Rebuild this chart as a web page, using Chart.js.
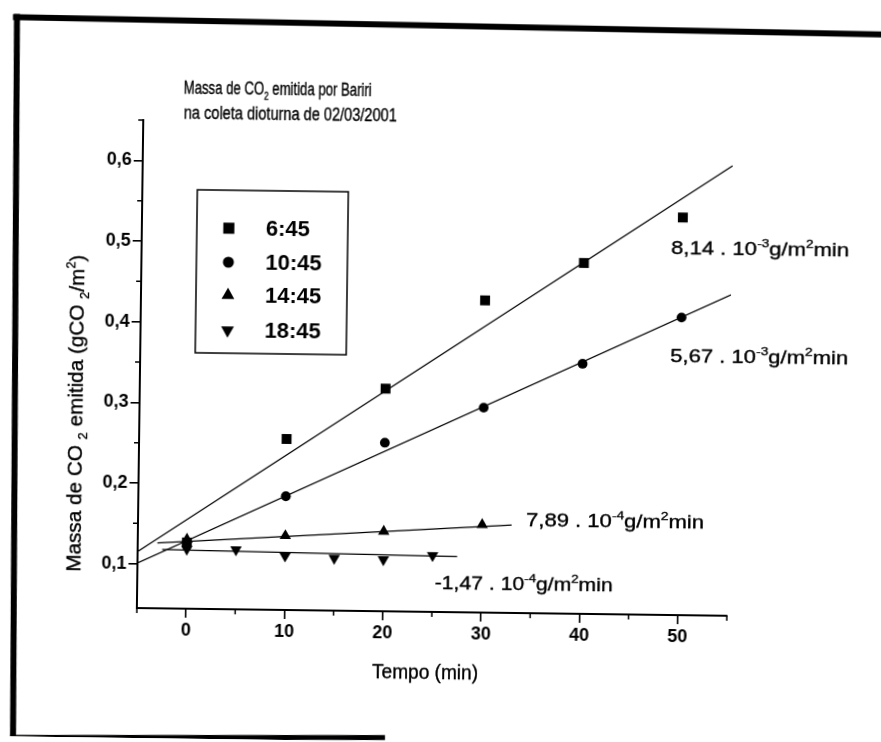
<!DOCTYPE html>
<html><head><meta charset="utf-8">
<script src="https://cdn.jsdelivr.net/npm/chart.js@4.4.1/dist/chart.umd.min.js"></script>
<style>
html,body{margin:0;padding:0;background:#fff;}
#wrap{position:relative;width:881px;height:742px;overflow:hidden;background:#fff;}
#c{position:absolute;left:0;top:0;transform:rotate(0.75deg);transform-origin:440.5px 371px;}
</style></head><body>
<div id="wrap"><canvas id="c" width="881" height="742"></canvas></div>
<script>
// ---------- data ----------
const seriesLabels = ['6:45', '10:45', '14:45', '18:45'];
const t645  = [0, 10, 20, 30, 40, 50];
const m645  = [0.127, 0.257, 0.321, 0.432, 0.480, 0.538];
const t1045 = [0, 10, 20, 30, 40, 50];
const m1045 = [0.123, 0.186, 0.254, 0.299, 0.355, 0.414];
const t1445 = [0, 10, 20, 30];
const m1445 = [0.131, 0.137, 0.144, 0.154];
const t1845 = [0, 5, 10, 15, 20, 25];
const m1845 = [0.119, 0.119, 0.112, 0.110, 0.109, 0.115];
// fitted straight lines (end points)
const fitT645  = [-5, 55];    const fitM645  = [0.115, 0.603];
const fitT1045 = [-5, 55];    const fitM1045 = [0.101, 0.443];
const fitT1445 = [-3, 33];    const fitM1445 = [0.126, 0.154];
const fitT1845 = [-2.5, 27.5]; const fitM1845 = [0.118, 0.114];
const slopeTexts = ['8,14 . 10', '5,67 . 10', '7,89 . 10', '-1,47 . 10'];
const slopeExps  = ['-3', '-3', '-4', '-4'];
const xTicks = [0, 10, 20, 30, 40, 50];
const xMinor = [-5, 5, 15, 25, 35, 45, 55];
const yTicks = [0.1, 0.2, 0.3, 0.4, 0.5, 0.6];
const yMinor = [0.15, 0.25, 0.35, 0.45, 0.55, 0.65];

// ---------- presentation ----------
const FONT = "'Liberation Sans', Arial, Helvetica, sans-serif";
const ROT = 0.75 * Math.PI / 180;
const CX = 440.5, CY = 371;
const zip = (xs, ys) => xs.map((x, i) => ({x: x, y: ys[i]}));
const markers = [
  {pointStyle: 'rect', radius: 7, rotation: 0},
  {pointStyle: 'circle', radius: 4.9, rotation: 0},
  {pointStyle: 'triangle', radius: 6.6, rotation: 0},
  {pointStyle: 'triangle', radius: 6.6, rotation: 180}
];
const pointSets = [zip(t645, m645), zip(t1045, m1045), zip(t1445, m1445), zip(t1845, m1845)];
const lineSets = [zip(fitT645, fitM645), zip(fitT1045, fitM1045), zip(fitT1445, fitM1445), zip(fitT1845, fitM1845)];

const datasets = [];
pointSets.forEach((d, i) => datasets.push({
  label: seriesLabels[i], data: d, showLine: false,
  pointStyle: markers[i].pointStyle, pointRadius: markers[i].radius, pointRotation: markers[i].rotation,
  pointBackgroundColor: '#000', pointBorderColor: '#000', pointBorderWidth: 0, pointHoverRadius: markers[i].radius
}));
lineSets.forEach((d, i) => datasets.push({
  label: 'fit ' + seriesLabels[i], data: d, showLine: true, borderColor: '#000', borderWidth: 1.25,
  pointRadius: 0, pointHoverRadius: 0, fill: false
}));

// map an observed (scanned) position into the rotated canvas frame
function unrot(ox, oy) {
  const dx = ox - CX, dy = oy - CY, c = Math.cos(ROT), s = Math.sin(ROT);
  return [CX + dx * c + dy * s, CY - dx * s + dy * c];
}
function poly(ctx, pts) {
  ctx.beginPath();
  pts.forEach((p, i) => { const q = unrot(p[0], p[1]); if (i) ctx.lineTo(q[0], q[1]); else ctx.moveTo(q[0], q[1]); });
  ctx.closePath(); ctx.fill();
}
function drawRich(ctx, parts, x, y, size, targetW, align, weight) {
  let w = 0; const ms = [];
  parts.forEach(p => {
    const fs = (p.sub || p.sup) ? size * 0.62 : size;
    ctx.font = (weight || 'normal') + ' ' + fs + 'px ' + FONT;
    const mw = ctx.measureText(p.t).width; ms.push([fs, mw]); w += mw;
  });
  const sx = targetW ? targetW / w : 1;
  ctx.save(); ctx.translate(x, y); ctx.scale(sx, 1);
  ctx.textBaseline = 'alphabetic'; ctx.textAlign = 'left'; ctx.fillStyle = '#000';
  ctx.strokeStyle = '#000'; ctx.lineWidth = 0.35;
  let cx = align === 'center' ? -w / 2 : 0;
  parts.forEach((p, i) => {
    ctx.font = (weight || 'normal') + ' ' + ms[i][0] + 'px ' + FONT;
    const dy = p.sub ? size * 0.26 : (p.sup ? -size * 0.42 : 0);
    ctx.fillText(p.t, cx, dy); ctx.strokeText(p.t, cx, dy); cx += ms[i][1];
  });
  ctx.restore();
}

const decor = {
  id: 'decor',
  beforeDraw(chart) {
    const ctx = chart.ctx;
    ctx.save();
    ctx.fillStyle = '#fff'; ctx.fillRect(-20, -20, chart.width + 40, chart.height + 40);
    ctx.fillStyle = '#000';
    poly(ctx, [[13, 14], [885, 31.5], [885, 37.5], [13, 20]]);
    poly(ctx, [[14, 14], [20, 14], [16, 745], [10, 745]]);
    poly(ctx, [[10, 735], [385, 735], [385, 740], [10, 740]]);
    // scanning residue in the upper right corner
    ctx.beginPath(); const g = unrot(862, -3); ctx.ellipse(g[0], g[1], 7, 6, 0, 0, Math.PI); ctx.lineWidth = 3;
    ctx.strokeStyle = '#000'; ctx.stroke();
    ctx.restore();
  },
  afterDraw(chart) {
    const ctx = chart.ctx, xs = chart.scales.x, ys = chart.scales.y, a = chart.chartArea;
    ctx.save();
    ctx.strokeStyle = '#000'; ctx.lineWidth = 1.5;
    // minor ticks
    ctx.beginPath();
    xMinor.forEach(v => { const px = xs.getPixelForValue(v); ctx.moveTo(px, a.bottom); ctx.lineTo(px, a.bottom + 5); });
    yMinor.forEach(v => { const py = ys.getPixelForValue(v); ctx.moveTo(a.left, py); ctx.lineTo(a.left - 5, py); });
    ctx.stroke();

    // legend box
    ctx.lineWidth = 1.5;
    ctx.strokeRect(195, 193, 151, 163);
    const ly = [231, 265, 298, 333];
    seriesLabels.forEach((lab, i) => {
      ctx.fillStyle = '#000'; ctx.strokeStyle = '#000';
      Chart.helpers.drawPoint(ctx, {pointStyle: markers[i].pointStyle, rotation: markers[i].rotation,
        radius: markers[i].radius * 1.12, borderWidth: 0}, 227, ly[i]);
      ctx.font = 'bold 22px ' + FONT; ctx.textBaseline = 'middle'; ctx.textAlign = 'left';
      ctx.fillText(lab, 264, ly[i] + 1);
    });

    // title
    drawRich(ctx, [{t: 'Massa de CO'}, {t: '2', sub: true}, {t: ' emitida por Bariri'}], 180, 97, 18, 188);
    drawRich(ctx, [{t: 'na coleta dioturna de 02/03/2001'}], 180.5, 122, 18, 213);

    // slope annotations
    const ann = [[669.5, 250.5], [670, 358.5], [528, 524.5], [437.5, 588.5]];
    slopeTexts.forEach((s, i) => {
      drawRich(ctx, [{t: s}, {t: slopeExps[i], sup: true}, {t: 'g/m'}, {t: '2', sup: true}, {t: 'min'}],
        ann[i][0], ann[i][1], 18.5, 178);
    });

    // axis titles
    drawRich(ctx, [{t: 'Tempo (min)'}], 429, 679, 19.5, 106, 'center');
    ctx.save();
    ctx.translate(83, 418); ctx.rotate(-Math.PI / 2);
    drawRich(ctx, [{t: 'Massa de CO '}, {t: '2', sub: true}, {t: ' emitida (gCO '}, {t: '2', sub: true},
      {t: '/m'}, {t: '2', sup: true}, {t: ')'}], 0, 0, 20.5, 317, 'center');
    ctx.restore();
    ctx.restore();
  }
};

const tickFont = {family: FONT, size: 18, weight: 'bold'};
new Chart(document.getElementById('c'), {
  type: 'scatter',
  data: {datasets: datasets},
  options: {
    responsive: false, animation: false, devicePixelRatio: 1,
    layout: {padding: {left: 0, top: 124, right: 151, bottom: 0}},
    plugins: {legend: {display: false}, tooltip: {enabled: false}, title: {display: false}},
    scales: {
      x: {
        type: 'linear', min: -5, max: 55,
        afterBuildTicks: s => { s.ticks = xTicks.map(v => ({value: v})); },
        afterFit: s => { s.height = 130; },
        grid: {display: true, drawOnChartArea: false, drawTicks: true, tickLength: 9, color: '#000', lineWidth: 1.6},
        border: {display: true, color: '#000', width: 2},
        ticks: {color: '#000', font: tickFont, padding: 2, maxRotation: 0, autoSkip: false,
          callback: v => String(v)}
      },
      y: {
        type: 'linear', min: 0.045, max: 0.65,
        afterBuildTicks: s => { s.ticks = yTicks.map(v => ({value: v})); },
        afterFit: s => { s.width = 140; },
        grid: {display: true, drawOnChartArea: false, drawTicks: true, tickLength: 9, color: '#000', lineWidth: 1.6},
        border: {display: true, color: '#000', width: 2},
        ticks: {color: '#000', font: tickFont, padding: 2, autoSkip: false,
          callback: v => v.toFixed(1).replace('.', ',')}
      }
    }
  },
  plugins: [decor]
});
</script>
</body></html>
